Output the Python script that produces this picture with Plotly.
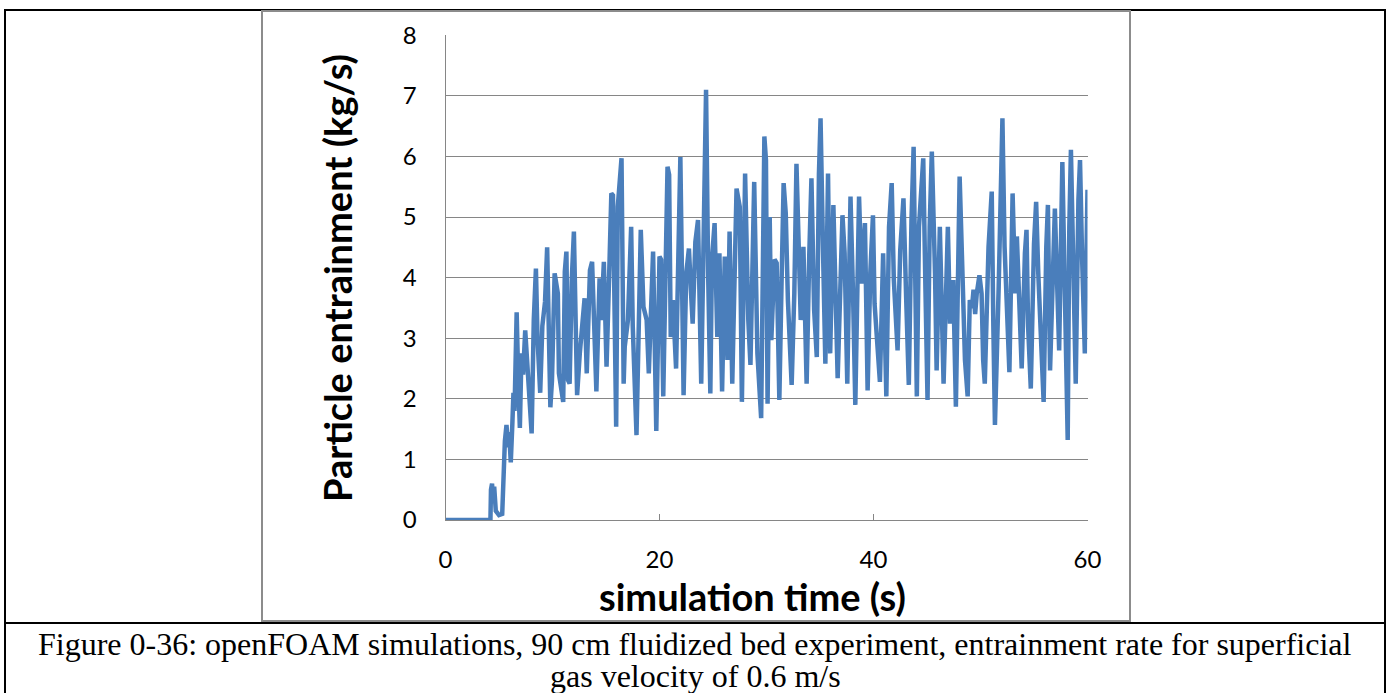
import plotly.graph_objects as go

# ---- data ----
time_s = [0.0, 4.2, 4.25, 4.35, 4.45, 4.55, 4.7, 5.0, 5.3, 5.45, 5.55, 5.7, 5.85, 5.95, 6.1, 6.25, 6.35, 6.45,
          6.55, 6.65, 6.8, 6.95, 7.1, 7.25, 7.45, 7.65, 7.8, 8.05, 8.25, 8.45, 8.6, 8.85, 9.05, 9.3, 9.5, 9.65,
          9.8, 9.95, 10.2, 10.5, 10.6, 11.0, 11.15, 11.3, 11.45, 11.6, 11.8, 12.0, 12.3, 12.55, 12.85, 13.0,
          13.2, 13.5, 13.7, 13.9, 14.1, 14.4, 14.55, 14.8, 15.05, 15.3, 15.5, 15.65, 15.95, 16.1, 16.45, 16.65,
          16.75, 17.05, 17.35, 17.5, 17.85, 18.25, 18.5, 18.8, 19.0, 19.4, 19.7, 20.0, 20.15, 20.35, 20.75,
          20.9, 21.05, 21.25, 21.55, 21.95, 22.25, 22.5, 22.75, 22.95, 23.1, 23.35, 23.6, 23.9, 24.15, 24.35,
          24.55, 24.75, 24.9, 25.15, 25.4, 25.6, 25.85, 26.1, 26.35, 26.55, 26.8, 27.0, 27.2, 27.5, 27.7, 28.0,
          28.3, 28.5, 28.85, 29.15, 29.5, 29.8, 29.95, 30.1, 30.3, 30.45, 30.75, 30.95, 31.2, 31.4, 31.6, 31.8,
          32.0, 32.35, 32.6, 32.8, 33.05, 33.2, 33.45, 33.75, 34.0, 34.2, 34.45, 34.7, 34.9, 35.05, 35.3, 35.5,
          35.75, 35.95, 36.25, 36.5, 36.65, 37.1, 37.3, 37.55, 37.85, 38.1, 38.3, 38.65, 38.9, 39.2, 39.45,
          39.7, 39.95, 40.1, 40.4, 40.6, 40.9, 41.2, 41.45, 41.7, 41.9, 42.25, 42.5, 42.8, 43.05, 43.3, 43.55,
          43.75, 43.9, 44.05, 44.25, 44.65, 44.85, 45.05, 45.25, 45.45, 45.75, 45.9, 46.2, 46.55, 46.95, 47.15,
          47.45, 47.7, 48.05, 48.3, 48.55, 48.8, 49.0, 49.2, 49.35, 49.5, 49.65, 49.9, 50.1, 50.25, 50.4, 50.75,
          51.05, 51.2, 51.35, 51.7, 51.9, 52.05, 52.25, 52.45, 52.7, 53.0, 53.25, 53.4, 53.65, 53.85, 54.15,
          54.3, 54.45, 54.7, 55.0, 55.2, 55.4, 55.65, 55.9, 56.15, 56.3, 56.5, 56.75, 56.95, 57.2, 57.35, 57.65,
          57.85, 58.05, 58.15, 58.3, 58.45, 58.65, 58.9, 59.15, 59.3, 59.5, 59.75, 60.0]
entrainment = [0, 0, 0.5, 0.6, 0.3, 0.55, 0.15, 0.08, 0.1, 0.9, 1.3, 1.57, 1.2, 1.45, 0.95, 1.6, 2.1, 1.8,
               2.9, 3.43, 2.3, 1.52, 2.75, 2.4, 3.13, 2.6, 2.2, 1.43, 3.3, 4.15, 3.0, 2.1, 3.2, 3.6, 4.5, 2.7,
               1.86, 2.3, 4.07, 3.74, 2.42, 1.95, 4.1, 4.43, 2.31, 2.25, 3.96, 4.76, 2.06, 2.75, 3.41, 3.66,
               2.42, 4.12, 4.26, 3.3, 2.12, 3.99, 3.3, 4.26, 2.53, 4.07, 5.39, 5.36, 1.54, 5.17, 5.97, 2.25,
               2.86, 3.3, 4.84, 3.2, 1.4, 4.79, 3.52, 3.3, 2.42, 4.43, 1.47, 4.35, 4.3, 2.04, 5.83,
               5.7, 3.02, 3.63, 2.5, 5.99, 2.06, 4.07, 4.48, 3.74, 3.24, 4.59, 4.95, 2.25, 5.28, 7.1,
               4.02, 2.09, 4.3, 4.9, 3.02, 4.4, 2.12, 4.35, 2.64, 4.76, 2.25, 4.3, 5.47, 5.17, 1.95, 5.72,
               3.3, 2.56, 5.58, 2.75, 1.68, 6.33, 5.94, 1.92, 5.0, 2.97, 4.3, 4.24, 1.98, 3.85, 5.56, 5.06,
               3.63, 2.23, 3.74, 5.88, 4.51, 3.3, 4.51, 2.25, 4.4, 5.64, 3.47, 2.69, 5.72, 6.63, 4.3, 2.58,
               5.72, 2.75, 5.2, 3.63, 2.34, 5.03, 4.4, 2.25, 5.34, 3.63, 1.9, 5.34, 3.9, 4.9, 2.14,
               4.07, 5.03, 3.57, 2.86, 2.28, 4.4, 2.04, 4.84, 5.56, 3.96, 2.8, 4.46, 5.31, 3.68, 2.23, 4.95,
               6.16, 4.02, 2.04, 4.84, 5.97, 3.85, 1.98, 4.84, 6.08, 4.07, 2.47, 4.84, 2.25, 4.84, 3.24,
               3.96, 1.87, 5.67, 4.18, 2.64, 2.04, 3.63, 3.5, 3.8, 3.4, 3.74, 4.04, 3.74, 2.64, 2.25, 4.51,
               5.42, 3.2, 1.57, 3.85, 5.39, 6.63, 4.51, 3.74, 2.44, 5.39, 3.74, 4.68, 3.63, 2.5, 4.4,
               4.79, 3.19, 2.17, 4.56, 5.25, 4.07, 2.91, 1.95, 4.51, 5.2, 2.47, 3.96, 5.14, 3.68, 2.8, 5.91,
               3.85, 1.54, 1.32, 4.84, 6.11, 4.4, 2.25, 5.28, 5.94, 4.3, 2.75, 5.45]

x_ticks = [0, 20, 40, 60]
y_ticks = [0, 1, 2, 3, 4, 5, 6, 7, 8]
x_title = "simulation time (s)"
y_title = "Particle entrainment (kg/s)"
caption_1 = "Figure 0-36: openFOAM simulations, 90 cm fluidized bed experiment, entrainment rate for superficial"
caption_2 = "gas velocity of 0.6 m/s"

W, H = 1393, 693
def px(x):
    return x / W
def py(y):
    return 1 - y / H

LINE = "#4a7ebb"
GRID = "#868686"
SANS = "Lato, Open Sans, sans-serif"
SERIF = "Liberation Serif, Times New Roman, serif"
TICKFONT = dict(family=SANS, size=24, color="#000000")

fig = go.Figure()
fig.add_trace(go.Scatter(x=time_s, y=entrainment, mode="lines",
                         line=dict(color=LINE, width=4.5), showlegend=False, hoverinfo="x+y"))

fig.update_layout(
    width=W, height=H,
    margin=dict(l=0, r=0, t=0, b=0, autoexpand=False),
    paper_bgcolor="white", plot_bgcolor="white",
    xaxis=dict(domain=[px(445.5), px(1087.5)], range=[0, 60], tickvals=x_ticks,
               showgrid=False, zeroline=False, showline=True, linecolor=GRID, linewidth=1,
               ticks="inside", ticklen=6, tickcolor=GRID, tickfont=TICKFONT,
               ticklabelstandoff=18, automargin=False),
    yaxis=dict(domain=[py(520), py(35.3)], range=[0, 8], tickvals=y_ticks,
               showgrid=True, gridcolor=GRID, gridwidth=1, zeroline=False,
               showline=True, linecolor=GRID, linewidth=1, ticks="", tickfont=TICKFONT,
               ticklabelstandoff=23, automargin=False),
    shapes=[
        # outer table border
        dict(type="rect", xref="paper", yref="paper", x0=px(5), x1=px(1385), y0=py(700), y1=py(10),
             line=dict(color="black", width=2), layer="above"),
        # row separator above caption
        dict(type="line", xref="paper", yref="paper", x0=px(5), x1=px(1385), y0=py(623), y1=py(623),
             line=dict(color="black", width=2), layer="above"),
        # chart frame
        dict(type="rect", xref="paper", yref="paper", x0=px(262), x1=px(1130), y0=py(621), y1=py(11),
             line=dict(color="#8c8c8c", width=2), layer="above"),
    ],
    annotations=[
        dict(text=y_title, xref="paper", yref="paper", x=px(337), y=py(278), showarrow=False,
             textangle=-90, xanchor="center", yanchor="middle",
             font=dict(family=SANS, size=38, color="black", weight="bold")),
        dict(text=x_title, xref="paper", yref="paper", x=px(752), y=py(596), showarrow=False,
             xanchor="center", yanchor="middle",
             font=dict(family=SANS, size=38, color="black", weight="bold")),
        dict(text=caption_1, xref="paper", yref="paper", x=px(695), y=py(644), showarrow=False,
             font=dict(family=SERIF, size=32, color="black"), xanchor="center", yanchor="middle"),
        dict(text=caption_2, xref="paper", yref="paper", x=px(695), y=py(676), showarrow=False,
             font=dict(family=SERIF, size=32, color="black"), xanchor="center", yanchor="middle"),
    ],
)

fig.write_html("out.html", config={"displayModeBar": False},
               post_script="document.body.style.margin='0';")
